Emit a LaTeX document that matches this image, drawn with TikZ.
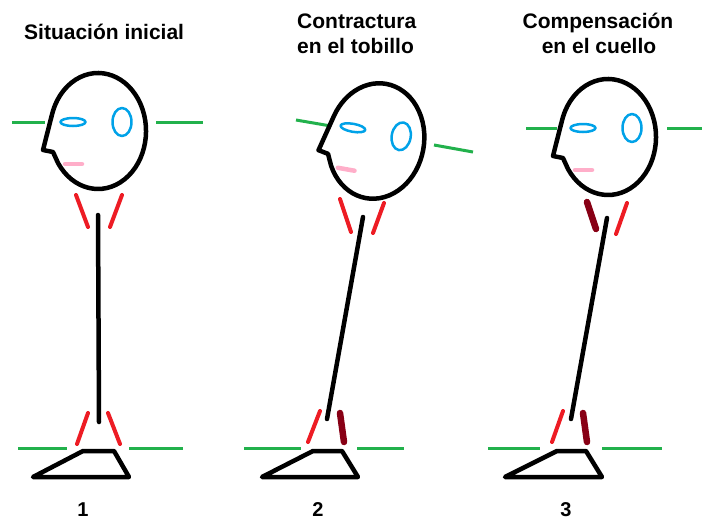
\documentclass[tikz,border=0pt]{standalone}
\usepackage{fontspec}
\setmainfont{Liberation Sans}
\definecolor{lvgreen}{RGB}{34,177,76}
\definecolor{mred}{RGB}{237,28,36}
\definecolor{mdark}{RGB}{136,0,21}
\definecolor{ecyan}{RGB}{0,162,232}
\definecolor{lpink}{RGB}{255,174,201}
\begin{document}
\begin{tikzpicture}[x=1pt,y=-1pt,line cap=round,line join=round,
  outline/.style={draw=black,line width=4.5pt},
  level/.style={draw=lvgreen,line width=3pt,line cap=butt},
  muscle/.style={draw=mred,line width=4pt},
  tight/.style={draw=mdark,line width=6.5pt},
  eyepart/.style={draw=ecyan,line width=2.5pt},
  lip/.style={draw=lpink,line width=4.5pt},
  title/.style={font=\bfseries\fontsize{21}{25}\selectfont,inner sep=0pt},
  num/.style={font=\bfseries\fontsize{20}{24}\selectfont,inner sep=0pt},
  head/.pic={
    \draw[outline] (-40,32) arc[start angle=146.5,end angle=-162,x radius=48,y radius=58]
      -- (-55,19) -- (-45,21) -- cycle;
    \draw[eyepart] (-25,-9) ellipse[x radius=12.5,y radius=4];
    \draw[eyepart] (24,-9) ellipse[x radius=9.5,y radius=14];
    \draw[lip] (-33,33) -- (-16,33);
  }]
\fill[white] (0,0) rectangle (702,520);
\useasboundingbox (0,0) rectangle (702,520);

% titles
\node[title,anchor=base west] (t1) at (24,39) {Situación inicial};
\node[title,anchor=base west] (t2a) at (297,28) {Contractura};
\node[title,anchor=base west] (t2b) at (297,53) {en el tobillo};
\node[title,anchor=base] (t3a) at (598,28) {Compensación};
\node[title,anchor=base] (t3b) at (599,53) {en el cuello};

% figure 1: initial posture
\draw[level] (12,122) -- (45,122);
\draw[level] (156,122) -- (203,122);
\pic at (98,131) {head};
\draw[muscle] (76,195) -- (88,227);
\draw[muscle] (122,195) -- (110,227);
\draw[outline] (98,215) -- (99,422);
\draw[muscle] (88,413) -- (77,444);
\draw[muscle] (108,413) -- (120,444);
\draw[level] (18,448) -- (67,448);
\draw[level] (129,448) -- (183,448);
\draw[outline] (83,451) -- (114,451) -- (129,477) -- (33,477) -- cycle;
\node[num,anchor=base] (n1) at (83,516) {1};

% figure 2: ankle contracture
\draw[level] (296,120) -- (328,125.5);
\draw[level] (434,145) -- (473,152);
\pic[rotate=-10] at (376,141) {head};
\draw[muscle] (340,199) -- (351,232);
\draw[muscle] (384,203) -- (373,233);
\draw[outline] (363,217) -- (327,419);
\draw[muscle] (320,411) -- (308,442);
\draw[tight] (340,413) -- (344,442);
\draw[level] (244,448) -- (301,448);
\draw[level] (357,448) -- (404,448);
\draw[outline] (313,451) -- (342,451) -- (358,477) -- (262,477) -- cycle;
\node[num,anchor=base] (n2) at (318,516) {2};

% figure 3: neck compensation
\draw[level] (526,128) -- (557,128);
\draw[level] (667,128) -- (702,128);
\pic at (608,137) {head};
\draw[tight] (587,202) -- (596,229);
\draw[muscle] (627,203) -- (616,234);
\draw[outline] (607,218) -- (571,419);
\draw[muscle] (563,411) -- (552,442);
\draw[tight] (583,413) -- (587,442);
\draw[level] (488,448) -- (540,448);
\draw[level] (602,448) -- (662,448);
\draw[outline] (557,451) -- (586,451) -- (602,477) -- (505,477) -- cycle;
\node[num,anchor=base] (n3) at (566,516) {3};
\end{tikzpicture}
\end{document}
